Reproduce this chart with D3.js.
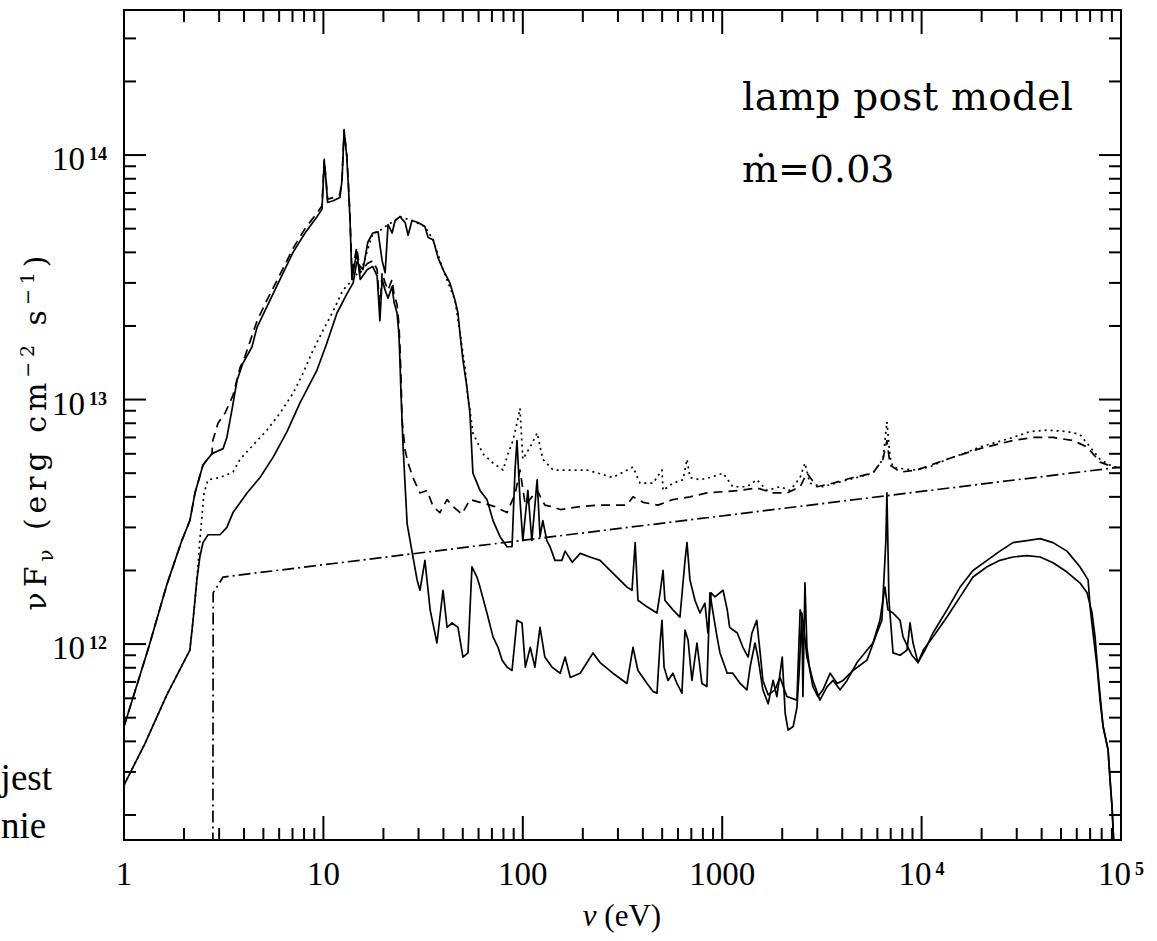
<!DOCTYPE html>
<html lang="en">
<head>
<meta charset="UTF-8">
<title>lamp post model</title>
<script src="https://d3js.org/d3.v7.min.js"></script>
<style>
  html, body { margin:0; padding:0; background:#fff; }
  svg { display:block; }
  .frame { fill:none; stroke:#000; stroke-width:2; }
  .tick { stroke:#000; stroke-width:2; }
  .curve { fill:none; stroke:#000; stroke-width:1.7; stroke-linejoin:round; }
  text { fill:#000; }
</style>
</head>
<body>
<div id="chart"></div>
<script>
// photon energy (eV) vs nu F_nu (erg cm^-2 s^-1)
const reflectedA=[[1,4.6e11],[1.33,9.7e11],[1.64,1.75e12],[1.95,2.65e12],[2.14,3.2e12],[2.27,4.15e12],[2.49,5.4e12],[2.76,6.0e12],[3.14,6.3e12],[3.28,7.0e12],[3.48,9.1e12],[3.69,1.2e13],[3.95,1.41e13],[4.38,1.64e13],[4.65,1.98e13],[5.21,2.4e13],[6.06,3.1e13],[7.04,4.0e13],[8.09,4.8e13],[9.29,5.6e13],[9.84,6.0e13],[10.1,9.5e13],[10.3,7.9e13],[10.5,6.4e13],[11.2,6.5e13],[12.1,6.7e13],[12.4,7.9e13],[12.7,1.26e14],[13.1,9.8e13],[13.4,7.0e13],[13.6,5.4e13],[13.9,3.1e13],[14.1,3.3e13],[14.7,4.0e13],[15.3,3.1e13],[16.6,3.4e13],[17.7,3.5e13],[18.6,3.2e13],[19.2,2.1e13],[19.7,3.1e13],[20.4,2.8e13],[21.1,2.6e13],[22.1,2.9e13],[22.6,2.5e13],[23.4,2.26e13],[23.9,1.87e13],[24.2,1.45e13],[24.5,1.06e13],[25.1,6.4e12],[26.3,3.1e12],[27.8,2.4e12],[29.5,1.83e12],[30.5,1.66e12],[32.3,2.2e12],[34.3,1.38e12],[37.1,1.01e12],[39.8,1.66e12],[41.7,1.17e12],[44.2,1.22e12],[47.3,1.17e12],[50.1,8.85e11],[53.1,9.2e11],[55.6,2.07e12],[58.9,1.88e12],[61,1.71e12],[66.1,1.34e12],[70.9,1.07e12],[75.1,9.7e11],[78.7,8.6e11],[83.3,8.05e11],[88.3,7.8e11],[93.5,1.25e12],[99.1,1.22e12],[103,8.05e11],[109,9.7e11],[115,8.05e11],[122,1.17e12],[129,8.85e11],[140,8.05e11],[154,7.6e11],[163,8.85e11],[173,7.3e11],[194,7.6e11],[225,9.2e11],[244,8.4e11],[283,7.6e11],[333,6.9e11],[357,9.7e11],[378,7.8e11],[420,6.9e11],[450,6.4e11],[471,6.3e11],[488,1.01e12],[499,1.25e12],[511,8.05e11],[535,7.1e11],[566,7.6e11],[593,6.9e11],[628,6.3e11],[651,1.14e12],[674,1.04e12],[705,7.1e11],[747,1.01e12],[791,6.9e11],[838,6.7e11],[868,1.62e12],[900,1.34e12],[942,1.07e12],[975,9.2e11],[1060,7.6e11],[1130,7.6e11],[1230,6.9e11],[1330,6.5e11],[1380,8.05e11],[1460,1.01e12],[1510,8.85e11],[1600,6.5e11],[1700,5.7e11],[1800,7.1e11],[1880,6.1e11],[2000,8.85e11],[2070,5.2e11],[2140,4.45e11],[2270,4.6e11],[2370,5.5e11],[2430,7.6e11],[2510,1.34e12],[2540,6.1e11],[2600,1.78e12],[2660,9.7e11],[2750,7.8e11],[2850,6.7e11],[3020,6.1e11],[3200,6.5e11],[3480,7.6e11],[3770,6.9e11],[4040,7.1e11],[4530,7.8e11],[5320,8.6e11],[5970,1.11e12],[6320,1.25e12],[6470,1.83e12],[6620,2.65e12],[6700,4.15e12],[6860,1.51e12],[7190,9.2e11],[7800,9.0e11],[8450,9.45e11],[8750,1.22e12],[9060,1.01e12],[9590,8.4e11],[10200,9.45e11],[11400,1.07e12],[13400,1.29e12],[15600,1.56e12],[18100,1.88e12],[21300,2.07e12],[24700,2.2e12],[28700,2.27e12],[33800,2.3e12],[39300,2.27e12],[45600,2.15e12],[53600,1.97e12],[62200,1.78e12],[67600,1.62e12],[71600,1.34e12],[74100,1.07e12],[76700,7.6e11],[81300,4.6e11],[86100,3.7e11],[88100,2.8e11],[90200,2.15e11],[92300,1.44e11]];

const reflectedB=[[1,2.65e11],[1.27,3.9e11],[1.64,6.2e11],[2.14,9.45e11],[2.22,1.25e12],[2.32,1.83e12],[2.4,2.27e12],[2.49,2.6e12],[2.64,2.8e12],[3.03,2.8e12],[3.28,3.0e12],[3.52,3.45e12],[4.14,4.15e12],[4.81,4.8e12],[5.59,5.8e12],[6.57,7.4e12],[7.63,9.7e12],[9.29,1.32e13],[10.4,1.7e13],[11.7,2.26e13],[13.1,2.7e13],[14.1,3.0e13],[14.7,3.65e13],[15.8,3.4e13],[16.7,4.4e13],[17.7,4.8e13],[18.8,4.85e13],[19.7,3.7e13],[20.4,3.3e13],[21.1,5.2e13],[22.1,4.8e13],[22.9,5.4e13],[24.2,5.6e13],[25.7,5.3e13],[26.6,4.7e13],[27.8,5.4e13],[29.8,5.3e13],[32.3,5.1e13],[33.5,4.6e13],[35.5,4.5e13],[37.6,3.8e13],[39.8,3.4e13],[43.1,3.0e13],[45.7,2.55e13],[47.3,2.26e13],[48.4,1.87e13],[50.1,1.45e13],[52.5,1.12e13],[54.3,8.8e12],[56.2,5.0e12],[61,4.25e12],[66.1,3.9e12],[70.9,3.2e12],[76.9,2.75e12],[83.3,2.5e12],[88.3,2.5e12],[91.4,5.15e12],[93.5,6.8e12],[96.8,3.9e12],[100,2.65e12],[106,4.25e12],[111,2.65e12],[118,4.7e12],[122,2.75e12],[126,3.2e12],[132,2.65e12],[137,2.5e12],[145,2.2e12],[157,2.2e12],[163,2.4e12],[177,2.16e12],[194,2.35e12],[217,2.27e12],[244,2.2e12],[283,1.95e12],[333,1.71e12],[353,1.66e12],[366,2.6e12],[378,1.51e12],[420,1.42e12],[471,1.34e12],[488,1.62e12],[505,2.0e12],[516,1.51e12],[566,1.38e12],[614,1.29e12],[651,2.2e12],[666,2.6e12],[689,1.83e12],[730,1.51e12],[773,1.34e12],[819,1.47e12],[848,1.11e12],[879,1.62e12],[920,1.56e12],[1010,1.66e12],[1060,1.38e12],[1090,1.17e12],[1190,1.11e12],[1270,9.7e11],[1350,8.85e11],[1410,1.11e12],[1490,1.25e12],[1550,9.2e11],[1600,7.1e11],[1700,6.2e11],[1840,6.5e11],[1950,7.3e11],[2110,6.1e11],[2370,5.9e11],[2460,1.38e12],[2540,1.25e12],[2660,8.85e11],[2850,7.1e11],[3090,5.9e11],[3360,6.7e11],[3600,7.1e11],[3900,6.5e11],[4230,7.1e11],[4740,8.4e11],[5700,1.01e12],[6180,1.25e12],[6550,1.71e12],[6780,1.38e12],[7190,1.34e12],[7800,1.25e12],[8070,1.07e12],[8550,9.7e11],[8950,9.0e11],[9590,8.4e11],[10400,9.45e11],[11400,1.11e12],[13400,1.38e12],[15600,1.71e12],[18100,2.0e12],[21300,2.2e12],[24700,2.4e12],[28700,2.6e12],[33800,2.65e12],[39300,2.7e12],[45600,2.6e12],[53600,2.4e12],[62200,2.07e12],[68400,1.83e12],[70000,1.42e12],[72400,1.11e12],[75900,8.05e11],[78500,5.9e11],[81300,4.6e11],[86100,3.7e11],[88100,2.8e11],[90200,2.15e11],[92300,1.44e11]];

// dashed: reflected A plus incident
const totalA=[[1,4.6e11],[1.33,9.7e11],[1.64,1.75e12],[1.95,2.65e12],[2.14,3.2e12],[2.27,4.15e12],[2.49,5.4e12],[2.76,6.0e12],[2.79,6.8e12],[2.96,8.0e12],[3.21,8.8e12],[3.52,1.04e13],[3.82,1.35e13],[4.04,1.5e13],[4.65,2.1e13],[5.21,2.55e13],[6.06,3.25e13],[7.04,4.15e13],[8.09,5.0e13],[9.29,5.8e13],[9.84,6.2e13],[10.1,9.6e13],[10.3,8.0e13],[10.5,6.6e13],[11.2,6.7e13],[12.1,6.9e13],[12.4,8.0e13],[12.7,1.27e14],[13.1,1.0e14],[13.4,7.2e13],[13.6,5.6e13],[13.9,3.3e13],[14.1,3.5e13],[14.7,4.2e13],[15.3,3.3e13],[16.6,3.6e13],[17.7,3.7e13],[18.6,3.4e13],[19.2,2.3e13],[19.7,3.3e13],[20.4,3.0e13],[21.1,2.8e13],[22.1,3.1e13],[22.6,2.7e13],[23.4,2.45e13],[23.9,2.05e13],[24.2,1.65e13],[24.5,1.25e13],[24.8,8.25e12],[25.7,6.2e12],[26.6,5.5e12],[28.1,4.8e12],[30.5,4.15e12],[33.1,4.25e12],[35.5,3.65e12],[38.4,3.45e12],[41.7,3.9e12],[44.7,3.65e12],[49.5,3.4e12],[54.3,3.9e12],[61,3.8e12],[72.5,3.65e12],[83.3,3.45e12],[91.4,4.1e12],[96.8,5.15e12],[103,3.7e12],[118,4.25e12],[129,3.7e12],[140,3.65e12],[154,3.55e12],[194,3.65e12],[236,3.7e12],[283,3.7e12],[333,3.7e12],[357,4.0e12],[401,3.8e12],[476,3.7e12],[566,3.9e12],[689,4.0e12],[838,4.15e12],[1010,4.2e12],[1230,4.25e12],[1490,4.35e12],[1800,4.15e12],[2110,4.15e12],[2460,4.4e12],[2660,5.0e12],[2990,4.4e12],[3600,4.55e12],[4530,4.8e12],[5700,5.0e12],[6400,5.7e12],[6700,6.8e12],[6950,5.4e12],[7800,5.05e12],[9480,5.15e12],[13400,5.7e12],[19600,6.3e12],[28700,6.8e12],[36200,7.0e12],[45600,7.0e12],[57400,6.8e12],[67600,6.4e12],[78500,5.55e12],[91200,5.3e12],[100000,5.25e12]];

// dotted: reflected B plus incident
const totalB=[[1,2.65e11],[1.27,3.9e11],[1.64,6.2e11],[2.14,9.45e11],[2.22,1.25e12],[2.32,1.83e12],[2.4,2.65e12],[2.52,4.15e12],[2.64,4.7e12],[3.03,4.8e12],[3.52,5.05e12],[3.82,5.7e12],[4.43,6.5e12],[5.21,7.5e12],[6.06,8.8e12],[7.04,1.06e13],[7.9,1.28e13],[8.87,1.59e13],[9.96,1.92e13],[11.2,2.3e13],[12.5,2.8e13],[14.1,3.1e13],[15.8,3.55e13],[17.7,4.8e13],[18.8,4.85e13],[21.1,5.2e13],[22.9,5.4e13],[24.2,5.6e13],[27.8,5.4e13],[32.3,5.1e13],[35.5,4.5e13],[39.8,3.4e13],[45.7,2.55e13],[48.4,1.87e13],[51.3,1.36e13],[53.1,9.95e12],[54.3,9.1e12],[56.2,7.3e12],[63.1,6.0e12],[70.9,5.5e12],[79.6,5.15e12],[84.3,6.0e12],[89.3,6.8e12],[93.5,8.0e12],[96.8,9.2e12],[100,5.7e12],[109,6.4e12],[118,7.3e12],[126,5.7e12],[142,5.15e12],[167,5.15e12],[210,5.15e12],[283,4.8e12],[357,5.3e12],[387,4.55e12],[450,4.55e12],[499,5.15e12],[505,4.25e12],[566,4.55e12],[636,4.7e12],[666,5.7e12],[689,4.8e12],[773,4.7e12],[868,4.8e12],[1010,5.0e12],[1130,4.4e12],[1330,4.4e12],[1490,4.7e12],[1680,4.25e12],[1950,4.4e12],[2190,4.25e12],[2460,4.8e12],[2600,5.5e12],[2750,4.55e12],[3200,4.4e12],[3900,4.6e12],[4740,4.8e12],[5700,5.0e12],[6400,5.7e12],[6700,8.1e12],[6950,5.8e12],[7190,5.3e12],[7530,5.25e12],[9060,5.15e12],[11000,5.3e12],[13400,5.7e12],[16100,6.0e12],[19600,6.4e12],[23900,6.7e12],[28700,7.0e12],[35000,7.4e12],[42600,7.5e12],[53600,7.4e12],[62200,7.2e12],[70000,6.4e12],[78500,5.7e12],[91200,5.3e12],[100000,5.25e12]];

// dash-dot: incident power law
const incident=[[2.79,1.0e11],[2.8,1.62e12],[3.14,1.88e12],[100000,5.3e12]];

const xDecades=[1,10,100,1000,1e4,1e5];
const xTickText=["1","10","100","1000","10^4","10^5"];
const yDecades=[1e12,1e13,1e14];
const yTickText=["10^12","10^13","10^14"];

const width=1157,height=941;
const L=124,R=1121,T=10,B=840;
const svg=d3.select("#chart").append("svg").attr("width",width).attr("height",height);
const x=d3.scaleLog().domain([1,1e5]).range([L,R]);
const y=d3.scaleLog().domain([1.58e11,3.92e14]).range([B,T]);

svg.append("clipPath").attr("id","plot").append("rect")
  .attr("x",L).attr("y",T).attr("width",R-L).attr("height",B-T);

const line=d3.line().x(d=>x(d[0])).y(d=>y(d[1]));
const series=[
  {data:incident,dash:"12,4,2,4"},
  {data:totalA,dash:"9,6"},
  {data:totalB,dash:"2,4"},
  {data:reflectedA,dash:null},
  {data:reflectedB,dash:null}
];
const plot=svg.append("g").attr("clip-path","url(#plot)");
series.forEach(s=>{
  plot.append("path").attr("class","curve").attr("d",line(s.data))
    .attr("stroke-dasharray",s.dash);
});

// ticks, inside on all four sides
const isMajor=v=>Math.abs(Math.log10(v)-Math.round(Math.log10(v)))<1e-9;
x.ticks().forEach(v=>{
  const len=isMajor(v)?24:12, px=x(v);
  svg.append("line").attr("class","tick").attr("x1",px).attr("x2",px).attr("y1",B).attr("y2",B-len);
  svg.append("line").attr("class","tick").attr("x1",px).attr("x2",px).attr("y1",T).attr("y2",T+len);
});
y.ticks().forEach(v=>{
  const len=isMajor(v)?22:12, py=y(v);
  svg.append("line").attr("class","tick").attr("x1",L).attr("x2",L+len).attr("y1",py).attr("y2",py);
  svg.append("line").attr("class","tick").attr("x1",R).attr("x2",R-len).attr("y1",py).attr("y2",py);
});
svg.append("rect").attr("class","frame").attr("x",L).attr("y",T).attr("width",R-L).attr("height",B-T);

function powText(t,label){
  const p=label.split("^");
  t.append("tspan").text(p[0]);
  if(p[1]) t.append("tspan").attr("dx",4).attr("dy",-10)
    .attr("font-size",18).attr("font-weight","bold").text(p[1]);
}
xDecades.forEach((v,i)=>{
  const t=svg.append("text").attr("x",x(v)).attr("y",885)
    .attr("text-anchor","middle").attr("font-family","Liberation Serif").attr("font-size",33);
  powText(t,xTickText[i]);
});
yDecades.forEach((v,i)=>{
  const t=svg.append("text").attr("x",107).attr("y",y(v)+15)
    .attr("text-anchor","end").attr("font-family","Liberation Serif").attr("font-size",33);
  powText(t,yTickText[i]);
});

// axis titles
const xt=svg.append("text").attr("x",622).attr("y",926).attr("text-anchor","middle")
  .attr("font-family","Liberation Serif").attr("font-size",31);
xt.append("tspan").attr("font-style","italic").text("ν");
xt.append("tspan").text(" (eV)");

const yt=svg.append("text").attr("transform","translate(46,433) rotate(-90)")
  .attr("text-anchor","middle").attr("font-family","DejaVu Serif").attr("font-size",30)
  .attr("textLength",355).attr("lengthAdjust","spacing");
yt.append("tspan").text("νF");
yt.append("tspan").attr("font-size",20).attr("dy",7).text("ν");
yt.append("tspan").attr("dy",-7).text(" (erg cm");
yt.append("tspan").attr("font-size",19).attr("dy",-12).text("−2");
yt.append("tspan").attr("dy",12).text(" s");
yt.append("tspan").attr("font-size",19).attr("dy",-12).text("−1");
yt.append("tspan").attr("dy",12).text(")");

// annotations
svg.append("text").attr("x",742).attr("y",110).attr("font-family","DejaVu Serif")
  .attr("font-size",39).attr("textLength",331).attr("lengthAdjust","spacing").text("lamp post model");
svg.append("text").attr("x",742).attr("y",182).attr("font-family","DejaVu Serif")
  .attr("font-size",38).text("ṁ=0.03");

// stray page text at lower left
svg.append("text").attr("x",52).attr("y",790).attr("text-anchor","end")
  .attr("font-family","Liberation Serif").attr("font-size",37).text("jest");
svg.append("text").attr("x",1).attr("y",838)
  .attr("font-family","Liberation Serif").attr("font-size",37).text("nie");
</script>
</body>
</html>
